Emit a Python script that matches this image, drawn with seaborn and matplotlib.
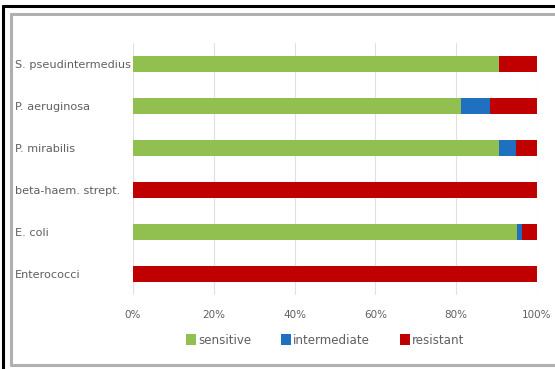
import matplotlib
matplotlib.use("Agg")
import matplotlib.pyplot as plt
from matplotlib.lines import Line2D
from matplotlib.patches import Patch
import seaborn as sns
import pandas as pd
import numpy as np

# Antimicrobial susceptibility by organism (share of isolates, %)
organisms = ["S. pseudintermedius", "P. aeruginosa", "P. mirabilis",
             "beta-haem. strept.", "E. coli", "Enterococci"]
sensitive = [90.6, 81.2, 90.6, 0.0, 95.0, 0.0]
intermediate = [0.0, 7.2, 4.1, 0.0, 1.3, 0.0]
resistant = [9.4, 11.6, 5.3, 100.0, 3.7, 100.0]

series = ["sensitive", "intermediate", "resistant"]
colors = {"sensitive": "#92c050", "intermediate": "#1f70c1", "resistant": "#c00000"}
xticks = [0, 20, 40, 60, 80, 100]
xtick_labels = ["0%", "20%", "40%", "60%", "80%", "100%"]

df = pd.DataFrame({"organism": organisms, "sensitive": sensitive,
                   "intermediate": intermediate, "resistant": resistant})
df["end_sensitive"] = df["sensitive"]
df["end_intermediate"] = df["sensitive"] + df["intermediate"]
df["end_resistant"] = df["end_intermediate"] + df["resistant"]

sns.set_theme(style="white")
plt.rcParams["font.family"] = ["DejaVu Sans"]
text_color = "#5f5f5f"

fig = plt.figure(figsize=(5.55, 3.69), dpi=100)
ax = fig.add_axes([133 / 555, 1 - 295 / 369, 404 / 555, 252 / 369])

# Stacked bars: draw cumulative totals from the back to the front
for name in reversed(series):
    sns.barplot(data=df, y="organism", x=f"end_{name}", orient="h",
                color=colors[name], width=0.38, saturation=1,
                linewidth=0, ax=ax, order=organisms)

ax.set_xlim(0, 100)
ax.set_xticks(xticks)
ax.set_xticklabels(xtick_labels)
ax.set_xlabel("")
ax.set_ylabel("")
ax.set_axisbelow(True)
ax.xaxis.grid(True, color="#e0e0e0", linewidth=0.8)
ax.yaxis.grid(False)
for sp in ax.spines.values():
    sp.set_visible(False)

ax.tick_params(axis="x", length=0, pad=11, labelsize=7.5, labelcolor=text_color)
ax.tick_params(axis="y", length=0, pad=85, labelsize=8.1, labelcolor=text_color)
for lbl in ax.get_yticklabels():
    lbl.set_horizontalalignment("left")

handles = [Patch(facecolor=colors[s], edgecolor="none", label=s) for s in series]
leg = fig.legend(handles=handles, loc="center", ncol=3,
                 bbox_to_anchor=(325 / 555, 1 - 340 / 369), frameon=False,
                 fontsize=8.6, handlelength=0.85, handleheight=1.0,
                 handletextpad=0.15, columnspacing=2.5, labelcolor=text_color)

# Chart frame
fig.add_artist(Line2D([3 / 555, 3 / 555], [0, 1 - 6 / 369], color="black",
                      linewidth=2.2, transform=fig.transFigure))
fig.add_artist(Line2D([3 / 555, 1], [1 - 6 / 369, 1 - 6 / 369], color="black",
                      linewidth=2.2, transform=fig.transFigure))
fig.add_artist(Line2D([11 / 555, 11 / 555], [1 - 365 / 369, 1 - 14 / 369],
                      color="#b0b0b0", linewidth=2.2, transform=fig.transFigure))
fig.add_artist(Line2D([11 / 555, 1], [1 - 14 / 369, 1 - 14 / 369],
                      color="#b0b0b0", linewidth=2.2, transform=fig.transFigure))
fig.add_artist(Line2D([11 / 555, 1], [1 - 365 / 369, 1 - 365 / 369],
                      color="#b0b0b0", linewidth=2.2, transform=fig.transFigure))

fig.savefig("out.png", dpi=100)
